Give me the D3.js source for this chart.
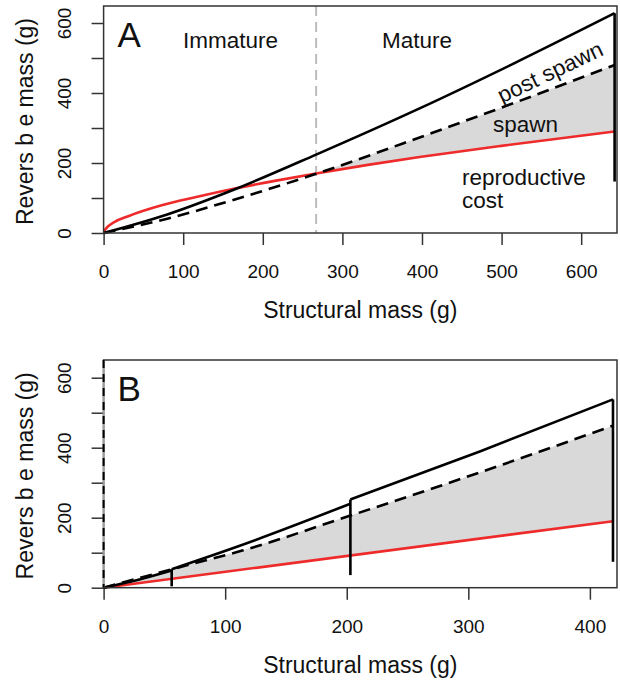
<!DOCTYPE html>
<html>
<head>
<meta charset="utf-8">
<script src="https://cdn.jsdelivr.net/npm/d3@7"></script>
<style>
  body { margin: 0; background: #fff; }
  svg text { font-family: "Liberation Sans", Arial, sans-serif; fill: #111; }
</style>
</head>
<body>
<div id="chart"></div>
<script>
// shared ticks
const yTicks = [0, 100, 200, 300, 400, 500, 600];
const yLabels = [0, 200, 400, 600];

// panel A
const aXTicks = [0, 100, 200, 300, 400, 500, 600];
const aMature = 267;
const aPreX = [0, 80, 165, 267, 397, 515, 642];
const aPreY = [0, 53, 125, 224, 356, 484, 628];
const aPostX = [0, 80, 165, 267, 397, 515, 642];
const aPostY = [0, 41, 96, 169, 273, 371, 480];
const aCostX = [0, 6, 14, 31, 73, 115, 165, 215, 267, 330, 397, 500, 642];
const aCostY = [4, 20, 32, 48, 79, 102, 127, 149, 170, 194, 217, 249, 290];
const aSpawnX = [642];
const aSpawnTop = [628];
const aSpawnBottom = [147];

// panel B
const bXTicks = [0, 100, 200, 300, 400];
const bPreSegments = [
  { x: [0, 28, 56], y: [0, 22, 49] },
  { x: [56, 112, 203], y: [53, 120, 240] },
  { x: [203, 310, 419], y: [252, 390, 538] }
];
const bPostX = [0, 75, 114, 203, 310, 419];
const bPostY = [0, 70, 106, 206, 330, 463];
const bCostX = [0, 419];
const bCostY = [0, 190];
const bSpawnX = [56, 203, 419];
const bSpawnTop = [53, 252, 538];
const bSpawnBottom = [4, 36, 74];

const W = 620, H = 681;
const font = 19;

const svg = d3.select("#chart").append("svg")
  .attr("width", W)
  .attr("height", H);

const zip = (xs, ys) => xs.map((v, i) => [v, ys[i]]);

function makePanel(cfg) {
  const x = d3.scaleLinear().domain([0, cfg.xMax]).range([cfg.left, cfg.right]);
  const y = d3.scaleLinear().domain([0, cfg.yMax]).range([cfg.bottom, cfg.top]);
  const g = svg.append("g");

  // x axis
  const xAxis = g.append("g")
    .attr("transform", `translate(0,${cfg.bottom})`)
    .call(d3.axisBottom(x).tickValues(cfg.xTicks).tickSize(12).tickPadding(20));
  xAxis.select(".domain").remove();
  xAxis.selectAll(".tick line").attr("stroke", "#333").attr("stroke-width", 1.5);
  xAxis.selectAll("text")
    .attr("font-size", font)
    .attr("fill", "#111")
    .style("font-family", "'Liberation Sans', Arial, sans-serif");

  // y axis, labels rotated like R's las=0
  const yAxis = g.append("g")
    .attr("transform", `translate(${cfg.left},0)`)
    .call(d3.axisLeft(y).tickValues(yTicks).tickSize(12)
      .tickFormat(d => yLabels.includes(d) ? d : ""));
  yAxis.select(".domain").remove();
  yAxis.selectAll(".tick line").attr("stroke", "#333").attr("stroke-width", 1.5);
  yAxis.selectAll("text")
    .attr("x", 0)
    .attr("dy", 0)
    .attr("text-anchor", "middle")
    .attr("transform", "translate(-33,0) rotate(-90)")
    .attr("font-size", font)
    .attr("fill", "#111")
    .style("font-family", "'Liberation Sans', Arial, sans-serif");

  // axis titles
  g.append("text")
    .attr("x", (cfg.left + cfg.right) / 2)
    .attr("y", cfg.bottom + 85)
    .attr("text-anchor", "middle")
    .attr("font-size", 23)
    .text("Structural mass (g)");

  g.append("text")
    .attr("transform", `translate(33,${(cfg.top + cfg.bottom) / 2 + 2}) rotate(-90)`)
    .attr("text-anchor", "middle")
    .attr("font-size", 23)
    .text("Revers b e mass (g)");

  // panel letter
  g.append("text")
    .attr("x", cfg.left + 14)
    .attr("y", cfg.top + 41)
    .attr("font-size", 35)
    .text(cfg.letter);

  return { x, y, g };
}

function drawBox(p, cfg) {
  p.g.append("rect")
    .attr("x", cfg.left)
    .attr("y", cfg.top)
    .attr("width", cfg.right - cfg.left)
    .attr("height", cfg.bottom - cfg.top)
    .attr("fill", "none")
    .attr("stroke", "#333")
    .attr("stroke-width", 1.5);
}

function spawnFill(p, id, costPts, postPts, curve) {
  const { x, y, g } = p;
  const clip = svg.append("clipPath").attr("id", id);
  clip.append("path")
    .attr("d", d3.area()
      .x(d => x(d[0]))
      .y0(y.range()[1] - 5)
      .y1(d => y(d[1]))
      .curve(curve)(costPts));
  g.append("path")
    .attr("clip-path", `url(#${id})`)
    .attr("fill", "#d9d9d9")
    .attr("d", d3.area()
      .x(d => x(d[0]))
      .y0(y(0))
      .y1(d => y(d[1]))
      .curve(curve)(postPts));
}

function drawLine(p, pts, color, dash, curve) {
  p.g.append("path")
    .attr("fill", "none")
    .attr("stroke", color)
    .attr("stroke-width", 2.6)
    .attr("stroke-dasharray", dash || null)
    .attr("d", d3.line()
      .x(d => p.x(d[0]))
      .y(d => p.y(d[1]))
      .curve(curve || d3.curveMonotoneX)(pts));
}

function drawSpawnDrops(p, xs, tops, bottoms) {
  p.g.selectAll(null)
    .data(xs.map((v, i) => ({ x: v, top: tops[i], bottom: bottoms[i] })))
    .join("line")
    .attr("x1", d => p.x(d.x))
    .attr("x2", d => p.x(d.x))
    .attr("y1", d => p.y(d.top))
    .attr("y2", d => p.y(d.bottom))
    .attr("stroke", "#000")
    .attr("stroke-width", 2.6);
}

// ---- Panel A ----
const cfgA = { left: 103.6, right: 617, top: 6, bottom: 233, xMax: 645, yMax: 648.6,
  xTicks: aXTicks, letter: "A" };
const pA = makePanel(cfgA);

spawnFill(pA, "clipA", zip(aCostX, aCostY),
  zip(aPostX, aPostY).filter(d => d[0] >= aMature), d3.curveMonotoneX);

pA.g.append("line")
  .attr("x1", pA.x(aMature)).attr("x2", pA.x(aMature))
  .attr("y1", cfgA.top).attr("y2", cfgA.bottom)
  .attr("stroke", "#bdbdbd")
  .attr("stroke-width", 2)
  .attr("stroke-dasharray", "10,6");

drawLine(pA, zip(aCostX, aCostY), "#ee2a2a");
drawLine(pA, zip(aPostX, aPostY), "#000", "12,7");
drawLine(pA, zip(aPreX, aPreY), "#000");
drawSpawnDrops(pA, aSpawnX, aSpawnTop, aSpawnBottom);
drawBox(pA, cfgA);

pA.g.append("text").attr("x", 183).attr("y", 48).attr("font-size", 22.5).text("Immature");
pA.g.append("text").attr("x", 382).attr("y", 48).attr("font-size", 22.5).text("Mature");
pA.g.append("text")
  .attr("transform", "translate(550,72) rotate(-25.5)")
  .attr("text-anchor", "middle")
  .attr("dy", "0.35em")
  .attr("font-size", 22.5)
  .text("post spawn");
pA.g.append("text").attr("x", 493).attr("y", 132).attr("font-size", 22.5).text("spawn");
pA.g.append("text").attr("x", 462).attr("y", 185).attr("font-size", 22.5).text("reproductive");
pA.g.append("text").attr("x", 462).attr("y", 208).attr("font-size", 22.5).text("cost");

// ---- Panel B ----
const cfgB = { left: 103.6, right: 617, top: 360, bottom: 587.7, xMax: 422.3, yMax: 650.6,
  xTicks: bXTicks, letter: "B" };
const pB = makePanel(cfgB);

spawnFill(pB, "clipB", zip(bCostX, bCostY), zip(bPostX, bPostY), d3.curveLinear);

drawLine(pB, zip(bCostX, bCostY), "#ee2a2a", null, d3.curveLinear);
drawLine(pB, zip(bPostX, bPostY), "#000", "12,7");
bPreSegments.forEach(s => drawLine(pB, zip(s.x, s.y), "#000"));
drawSpawnDrops(pB, bSpawnX, bSpawnTop, bSpawnBottom);
drawBox(pB, cfgB);

// maturity at zero size in B: grey edge with a dashed line over it
pB.g.append("line")
  .attr("x1", pB.x(0)).attr("x2", pB.x(0))
  .attr("y1", cfgB.top).attr("y2", cfgB.bottom)
  .attr("stroke", "#9a9a9a")
  .attr("stroke-width", 2);
pB.g.append("line")
  .attr("x1", pB.x(0)).attr("x2", pB.x(0))
  .attr("y1", cfgB.top).attr("y2", cfgB.bottom)
  .attr("stroke", "#000")
  .attr("stroke-width", 2)
  .attr("stroke-dasharray", "8,6");
</script>
</body>
</html>
